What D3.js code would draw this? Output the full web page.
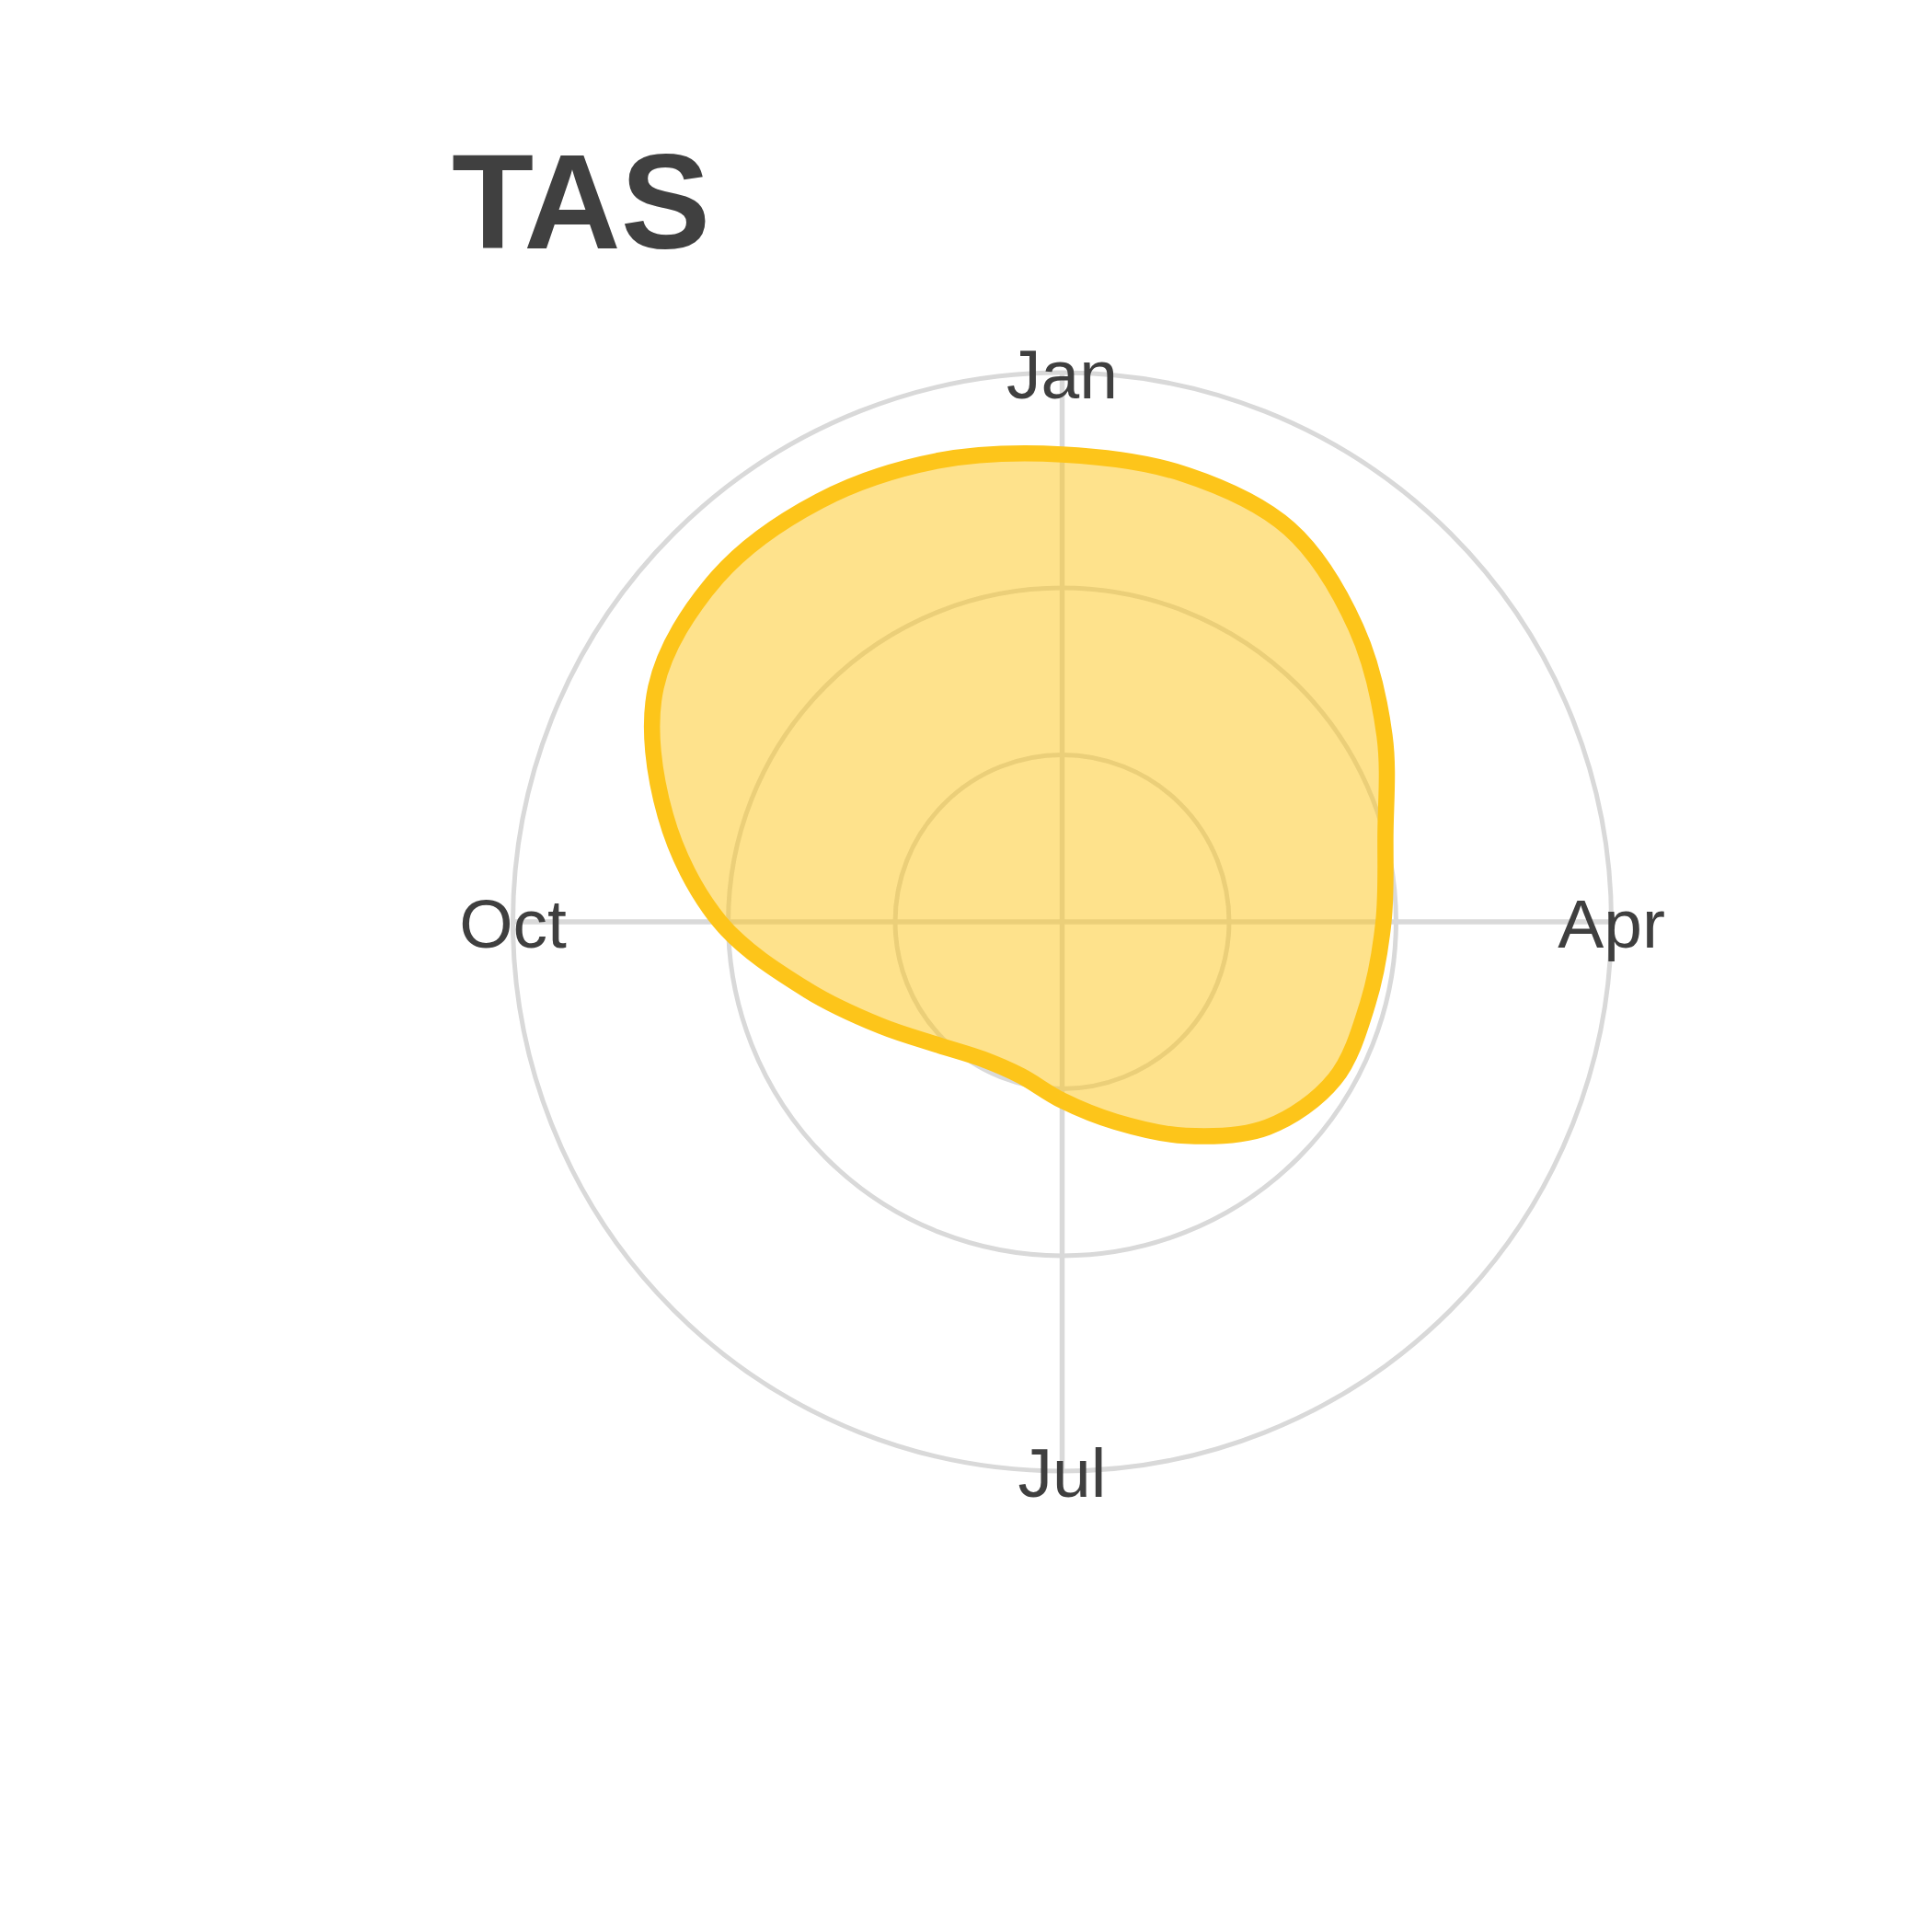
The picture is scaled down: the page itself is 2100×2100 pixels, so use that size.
<!DOCTYPE html>
<html>
<head>
<meta charset="utf-8">
<script src="https://cdn.jsdelivr.net/npm/d3@7"></script>
<style>
  html, body { margin: 0; padding: 0; background: #ffffff; }
  svg { display: block; }
</style>
</head>
<body>
<div id="chart"></div>
<script>
// ---- data (half-month resolution) ----
const periods = ["1 Jan","16 Jan","1 Feb","16 Feb","1 Mar","16 Mar","1 Apr","16 Apr",
                 "1 May","16 May","1 Jun","16 Jun","1 Jul","16 Jul","1 Aug","16 Aug",
                 "1 Sep","16 Sep","1 Oct","16 Oct","1 Nov","16 Nov","1 Dec","16 Dec"];
const values = [28.0, 27.8, 27.2, 24.9, 22.3, 20.05, 19.25, 18.95,
                18.85, 17.4, 14.8, 12.4, 10.7, 9.55, 9.5, 10.45,
                12.5, 15.8, 20.5, 24.6, 28.1, 29.2, 29.1, 28.6];
const monthLabels = ["Jan", "Apr", "Jul", "Oct"];
const monthLabelPeriods = ["1 Jan", "1 Apr", "1 Jul", "1 Oct"];
const radialBreaks = [10, 20];
const radialMax = 32.9;   // value at the outer ring
const title = "TAS";

// ---- layout ----
const W = 2100, H = 2100;
const cx = 1154.5, cy = 1002, R = 597;

const svg = d3.select("#chart").append("svg")
  .attr("width", W).attr("height", H);

const theta = d3.scaleLinear().domain([0, periods.length]).range([0, 2 * Math.PI]);
const r = d3.scaleLinear().domain([0, radialMax]).range([0, R]);
const idx = p => periods.indexOf(p);

const g = svg.append("g").attr("transform", `translate(${cx},${cy})`);

const gridColor = "#d9d9d9";
// spokes
g.selectAll("line.spoke").data(monthLabelPeriods).join("line")
  .attr("class", "spoke")
  .attr("x1", 0).attr("y1", 0)
  .attr("x2", d => r(radialMax) * Math.sin(theta(idx(d))))
  .attr("y2", d => -r(radialMax) * Math.cos(theta(idx(d))))
  .attr("stroke", gridColor).attr("stroke-width", 5.5);

// rings
g.selectAll("circle.ring").data(radialBreaks.concat([radialMax])).join("circle")
  .attr("class", "ring")
  .attr("r", d => r(d))
  .attr("fill", "none")
  .attr("stroke", gridColor).attr("stroke-width", 5);

// area + line
const radial = d3.lineRadial()
  .angle((d, i) => theta(i))
  .radius(d => r(d))
  .curve(d3.curveCatmullRomClosed.alpha(0.5));

g.append("path").datum(values)
  .attr("d", radial)
  .attr("fill", "#fdc51a").attr("fill-opacity", 0.5)
  .attr("stroke", "none");

g.append("path").datum(values)
  .attr("d", radial)
  .attr("fill", "none")
  .attr("stroke", "#fdc51a").attr("stroke-width", 17.5)
  .attr("stroke-linejoin", "round");

// month labels on the outer ring
g.selectAll("text.month").data(monthLabels).join("text")
  .attr("class", "month")
  .attr("x", (d, i) => r(radialMax) * Math.sin(theta(idx(monthLabelPeriods[i]))))
  .attr("y", (d, i) => -r(radialMax) * Math.cos(theta(idx(monthLabelPeriods[i]))))
  .attr("dy", "0.37em")
  .attr("text-anchor", "middle")
  .attr("font-family", "'Liberation Sans', Arial, sans-serif")
  .attr("font-size", 75)
  .attr("fill", "#3f3f3f")
  .text(d => d);

// title
svg.append("text")
  .attr("x", 491).attr("y", 270)
  .attr("font-family", "'Liberation Sans', Arial, sans-serif")
  .attr("font-weight", "bold")
  .attr("font-size", 146)
  .attr("fill", "#404040")
  .text(title);
</script>
</body>
</html>
